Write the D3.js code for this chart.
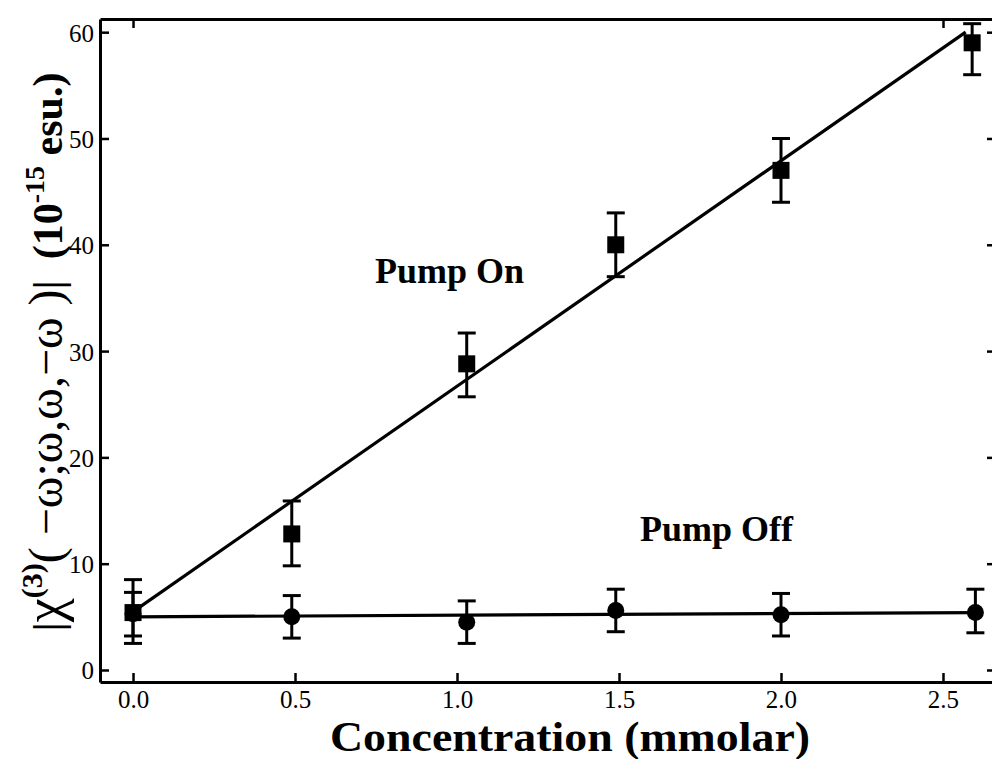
<!DOCTYPE html>
<html>
<head>
<meta charset="utf-8">
<script src="https://cdn.jsdelivr.net/npm/d3@7"></script>
<style>
  html, body { margin: 0; padding: 0; background: #fff; }
  svg { display: block; }
  text { font-family: "Liberation Serif", "DejaVu Serif", serif; fill: #000; }
</style>
</head>
<body>
<svg id="chart" width="992" height="759"></svg>
<script>
// Concentration (mmolar) of each sample
const concOn  = [0.0, 0.49, 1.03, 1.49, 2.0, 2.59];
const concOff = [0.0, 0.49, 1.03, 1.49, 2.0, 2.60];

// |chi(3)| in 1e-15 esu, with lower / upper error limits
const pumpOn      = [5.4, 12.8, 28.8, 40.0, 47.0, 59.0];
const pumpOnLow   = [2.5,  9.8, 25.7, 37.0, 44.0, 56.0];
const pumpOnHigh  = [8.5, 15.9, 31.7, 43.0, 50.0, 60.8];
const pumpOff     = [5.3,  5.0,  4.5,  5.6,  5.2,  5.4];
const pumpOffLow  = [3.2,  3.0,  2.5,  3.6,  3.2,  3.5];
const pumpOffHigh = [7.3,  7.0,  6.5,  7.6,  7.2,  7.6];

// Linear fits drawn through each series: [x, y] end points
const fitOn  = [[0.015, 5.8], [2.57, 60.0]];
const fitOff = [[0.0, 5.0], [2.60, 5.4]];

// Axis ticks
const xTicks = [0.0, 0.5, 1.0, 1.5, 2.0, 2.5];
const xTopTicks = [0.0, 2.5];
const yTicks = [0, 10, 20, 30, 40, 50, 60];

const svg = d3.select("#chart");
const plotLeft = 100, plotRight = 996, plotTop = 19, plotBottom = 682;

const x = d3.scaleLinear().domain([-0.1019, 2.6636]).range([plotLeft, plotRight]);
const y = d3.scaleLinear().domain([-1.13, 61.24]).range([plotBottom, plotTop]);

const axisW = 3;

// Frame axes with inward ticks
const gB = svg.append("g").attr("transform", `translate(0,${plotBottom})`)
  .call(d3.axisBottom(x).tickValues(xTicks).tickSizeInner(-9).tickSizeOuter(0)
        .tickFormat(d3.format(".1f")).tickPadding(8));
const gT = svg.append("g").attr("transform", `translate(0,${plotTop})`)
  .call(d3.axisTop(x).tickValues(xTopTicks).tickSizeInner(-9).tickSizeOuter(0).tickFormat(""));
const gL = svg.append("g").attr("transform", `translate(${plotLeft},0)`)
  .call(d3.axisLeft(y).tickValues(yTicks).tickSizeInner(-9).tickSizeOuter(0).tickPadding(6));
const gR = svg.append("g").attr("transform", `translate(${plotRight},0)`)
  .call(d3.axisRight(y).tickValues(yTicks).tickSizeInner(-9).tickSizeOuter(0).tickFormat(""));

[gB, gT, gL, gR].forEach(g => {
  g.select(".domain").attr("stroke", "#000").attr("stroke-width", axisW);
  g.selectAll(".tick line").attr("stroke", "#000").attr("stroke-width", 2.5);
  g.selectAll("text").attr("font-size", 25).attr("fill", "#000")
    .attr("font-family", "Liberation Serif, serif");
});
gB.selectAll("text").attr("dy", "0.71em");
gL.selectAll("text").attr("dy", "0.36em");

// Fit lines
const line = d3.line().x(d => x(d[0])).y(d => y(d[1]));
svg.append("path").attr("d", line(fitOn)).attr("fill", "none")
  .attr("stroke", "#000").attr("stroke-width", 3.2);
svg.append("path").attr("d", line(fitOff)).attr("fill", "none")
  .attr("stroke", "#000").attr("stroke-width", 3.2);

// Error bars
function errorBars(xs, lo, hi) {
  const g = svg.append("g").attr("stroke", "#000").attr("stroke-width", 3);
  xs.forEach((cx, i) => {
    const px = x(cx);
    g.append("line").attr("x1", px).attr("x2", px).attr("y1", y(lo[i])).attr("y2", y(hi[i]));
    g.append("line").attr("x1", px - 9).attr("x2", px + 9).attr("y1", y(lo[i])).attr("y2", y(lo[i]));
    g.append("line").attr("x1", px - 9).attr("x2", px + 9).attr("y1", y(hi[i])).attr("y2", y(hi[i]));
  });
}
errorBars(concOff, pumpOffLow, pumpOffHigh);
errorBars(concOn, pumpOnLow, pumpOnHigh);

// Markers
svg.append("g").selectAll("circle").data(concOff).join("circle")
  .attr("cx", d => x(d)).attr("cy", (d, i) => y(pumpOff[i])).attr("r", 8.5).attr("fill", "#000");
const sq = 17;
svg.append("g").selectAll("rect").data(concOn).join("rect")
  .attr("x", d => x(d) - sq / 2).attr("y", (d, i) => y(pumpOn[i]) - sq / 2)
  .attr("width", sq).attr("height", sq).attr("fill", "#000");

// Series labels
svg.append("text").attr("x", 375).attr("y", 283).attr("font-size", 36)
  .attr("font-weight", "bold").text("Pump On");
svg.append("text").attr("x", 640).attr("y", 541).attr("font-size", 36)
  .attr("font-weight", "bold").text("Pump Off");

// X axis title
svg.append("text").attr("x", 570).attr("y", 751).attr("text-anchor", "middle")
  .attr("font-size", 43).attr("font-weight", "bold")
  .attr("textLength", 480).attr("lengthAdjust", "spacingAndGlyphs")
  .text("Concentration (mmolar)");

// Y axis title (rotated)
const yt = svg.append("text")
  .attr("transform", "translate(62,352) rotate(-90)")
  .attr("text-anchor", "middle").attr("font-size", 42);
yt.append("tspan").attr("font-weight", "bold").text("|");
yt.append("tspan").attr("font-size", 54).text("χ");
yt.append("tspan").attr("font-weight", "bold").attr("font-size", 30).attr("dy", -20).text("(3)");
yt.append("tspan").attr("dy", 20).attr("font-size", 48).text("( −ω;ω,ω,−ω )");
yt.append("tspan").attr("font-weight", "bold").text("|");
yt.append("tspan").attr("font-weight", "bold").text("\u00a0 (10");
yt.append("tspan").attr("font-weight", "bold").attr("font-size", 28).attr("dy", -18).text("-15");
yt.append("tspan").attr("font-weight", "bold").attr("dy", 18).text(" esu.)");
</script>
</body>
</html>
